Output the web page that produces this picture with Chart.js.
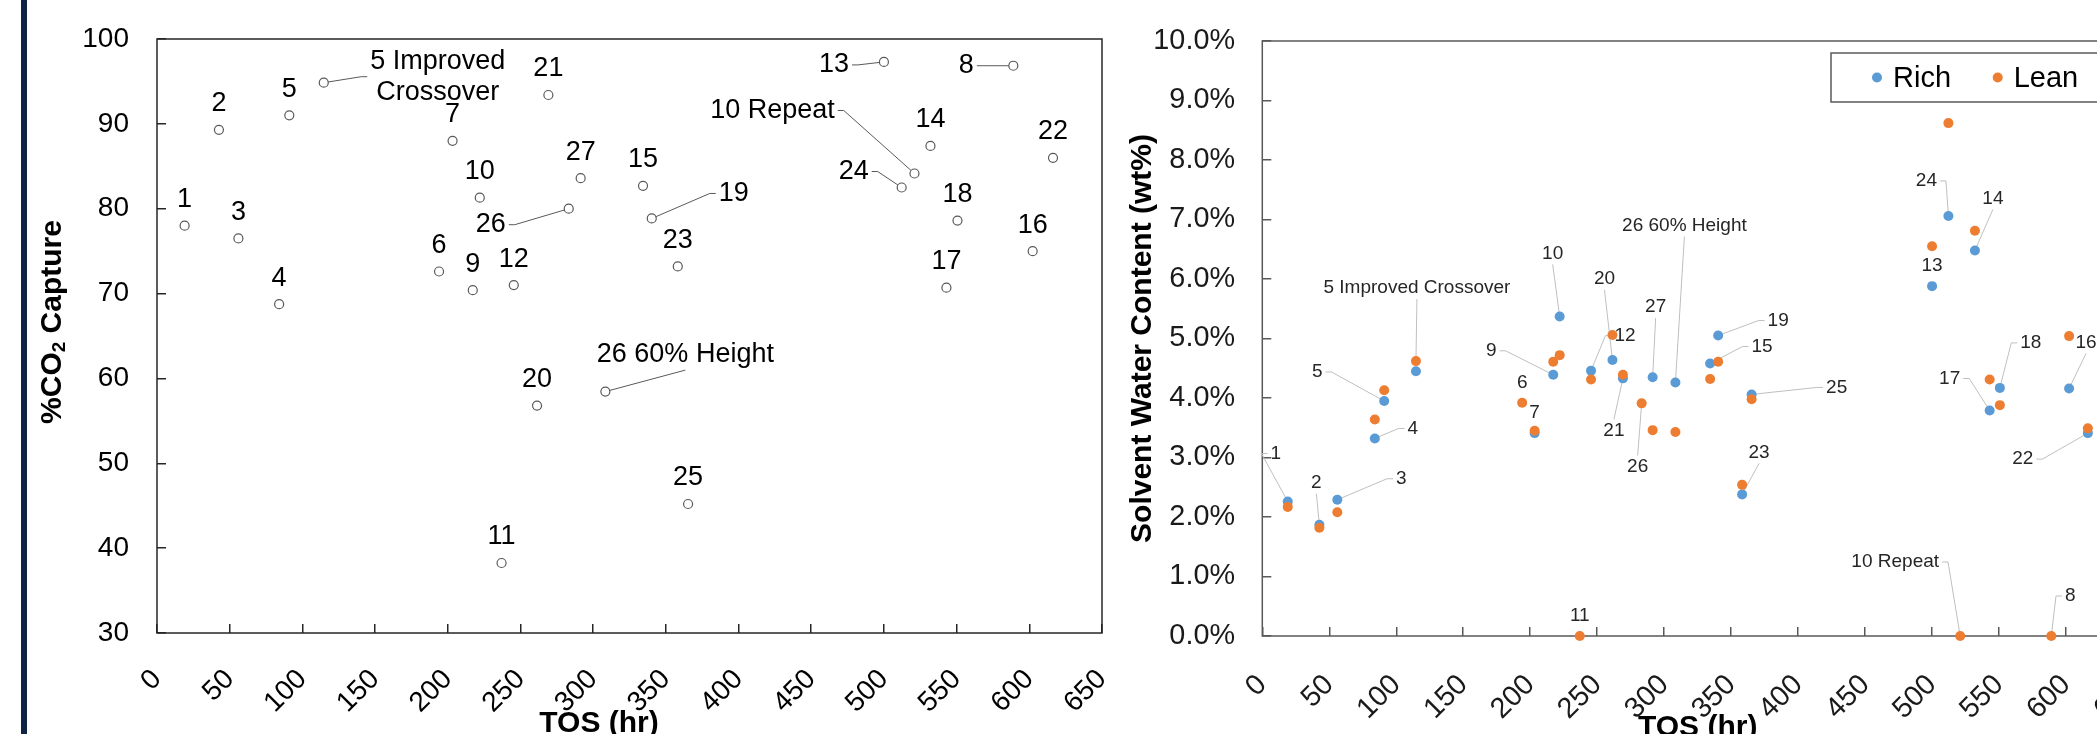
<!DOCTYPE html>
<html>
<head>
<meta charset="utf-8">
<script src="https://cdn.jsdelivr.net/npm/chart.js@4.4.1/dist/chart.umd.min.js"></script>
<style>
  html, body { margin: 0; padding: 0; background: #fff; }
  body { width: 2097px; height: 734px; overflow: hidden; position: relative; }
  #bar { position: absolute; left: 21px; top: 0; width: 6px; height: 734px; background: #0f2443; }
  #capture { position: absolute; left: 0; top: 0; }
  #water { position: absolute; left: 1120px; top: 0; }
</style>
</head>
<body>
<div id="bar"></div>
<canvas id="capture" width="1120" height="734"></canvas>
<canvas id="water" width="1100" height="734"></canvas>
<script>
// run names, time on stream and measured values
const runs = ['1', '2', '3', '4', '5', '5 Improved Crossover', '6', '7', '8', '9', '10', '10 Repeat', '11', '12',
	'13', '14', '15', '16', '17', '18', '19', '20', '21', '22', '23', '24', '25', '26', '26 60% Height', '27'];
const tosHours = [19, 42.6, 56, 84, 91, 114.7, 194, 203.3, 589, 217.2, 222, 521, 237, 245.4,
	500, 532, 334.3, 602.3, 543, 550.6, 340.3, 261.4, 269.2, 616.3, 358.2, 512.2, 365.3, 283.2, 308.4, 291.4];
const co2Capture = [78.0, 89.3, 76.5, 68.75, 91.0, 94.85, 72.6, 88.0, 96.85, 70.4, 81.3, 84.15, 38.25, 71.0,
	97.3, 87.4, 82.7, 75.0, 70.7, 78.6, 78.85, 56.8, 93.4, 86.0, 73.2, 82.5, 45.2, 80.0, 58.45, 83.6];
const richWater = [2.26, 1.87, 2.29, 3.32, 3.95, 4.45, null, 3.41, null, 4.39, 5.37, null, null, 4.46,
	5.88, 6.48, 4.58, 4.16, 3.79, 4.17, 5.05, 4.64, 4.33, 3.41, 2.38, 7.06, 4.06, null, 4.26, 4.35];
const leanWater = [2.17, 1.82, 2.08, 3.64, 4.13, 4.62, 3.92, 3.45, 0, 4.61, 4.72, 0, 0, 4.31,
	6.55, 6.81, 4.32, 5.04, 4.31, 3.88, 4.61, 5.06, 4.39, 3.49, 2.54, 8.62, 3.98, 3.91, 3.43, 3.46];
const seriesNames = ['Rich', 'Lean'];
const tosRange = [0, 650, 50];
const captureRange = [30, 100, 10];
const waterRange = [0, 10, 1];

const FONT = "'Liberation Sans', Arial, sans-serif";

// label placement (pixels from the point); side = where a leader line leaves the text
const captureLabels = [
	...['1', '2', '3', '4', '5', '6', '7', '9', '10', '11', '12', '14', '15', '16', '17', '18', '20', '21', '22', '23', '25', '27']
		.map(run => ({ run })),
	{ run: '5 Improved Crossover', text: '5 Improved\nCrossover', dx: 114, dy: -6, side: 'l' },
	{ run: '26', dx: -78, dy: 16, side: 'r' },
	{ run: '13', dx: -50, dy: 3, side: 'r' },
	{ run: '8', dx: -47, dy: 0, side: 'r' },
	{ run: '10 Repeat', dx: -142, dy: -63, side: 'r' },
	{ run: '24', dx: -48, dy: -16, side: 'r' },
	{ run: '19', dx: 82, dy: -25, side: 'l' },
	{ run: '26 60% Height', dx: 80, dy: -37, side: 'b' },
];

const waterLabels = [
	{ run: '6', ds: 1 }, { run: '7', ds: 0 }, { run: '11', ds: 1 }, { run: '13', ds: 0 },
	{ run: '1', ds: 0, dx: -12, dy: -48, side: 'l' },
	{ run: '2', ds: 0, dx: -3, dy: -42, side: 'b' },
	{ run: '3', ds: 0, dx: 64, dy: -21, side: 'l' },
	{ run: '4', ds: 0, dx: 38, dy: -10, side: 'l' },
	{ run: '5', ds: 0, dx: -67, dy: -29, side: 'r' },
	{ run: '5 Improved Crossover', ds: 1, dx: 1, dy: -73, side: 'b' },
	{ run: '9', ds: 0, dx: -62, dy: -24, side: 'r' },
	{ run: '10', ds: 0, dx: -7, dy: -63, side: 'b' },
	{ run: '12', ds: 0, dx: 34, dy: -35, side: 'l' },
	{ run: '20', ds: 0, dx: -8, dy: -81, side: 'b' },
	{ run: '27', ds: 0, dx: 3, dy: -70, side: 'b' },
	{ run: '26 60% Height', ds: 0, dx: 9, dy: -157, side: 'b' },
	{ run: '19', ds: 0, dx: 60, dy: -15, side: 'l' },
	{ run: '15', ds: 0, dx: 52, dy: -17, side: 'l' },
	{ run: '21', ds: 0, dx: -9, dy: 52, side: 't' },
	{ run: '26', ds: 1, dx: -4, dy: 63, side: 't' },
	{ run: '25', ds: 0, dx: 85, dy: -7, side: 'l' },
	{ run: '23', ds: 0, dx: 17, dy: -42, side: 'b' },
	{ run: '24', ds: 0, dx: -22, dy: -35, side: 'r' },
	{ run: '14', ds: 0, dx: 18, dy: -52, side: 'b' },
	{ run: '10 Repeat', ds: 1, dx: -65, dy: -74, side: 'r' },
	{ run: '8', ds: 1, dx: 19, dy: -40, side: 'l' },
	{ run: '17', ds: 0, dx: -40, dy: -32, side: 'r' },
	{ run: '18', ds: 0, dx: 31, dy: -45, side: 'l' },
	{ run: '16', ds: 0, dx: 17, dy: -46, side: 'b' },
	{ run: '22', ds: 0, dx: -65, dy: 26, side: 'r' },
];

function points(values) {
	return tosHours.map((x, i) => ({ x, y: values[i] }));
}

function labelGeometry(chart, ctx, lb, cfg) {
	const el = chart.getDatasetMeta(lb.ds || 0).data[runs.indexOf(lb.run)];
	const lines = (lb.text || lb.run).split('\n');
	const w = Math.max(...lines.map(l => ctx.measureText(l).width));
	const lh = cfg.size * 1.15;
	const h = lh * lines.length;
	const cx = el.x + (lb.dx || 0);
	const cy = el.y + (lb.dy === undefined ? cfg.dy : lb.dy);
	return { el, lines, w, h, lh, cx, cy };
}

function pointLabels(cfg) {
	return {
		id: 'pointLabels',
		beforeDatasetsDraw(chart) {
			const ctx = chart.ctx;
			ctx.save();
			ctx.font = `${cfg.size}px ${FONT}`;
			ctx.strokeStyle = cfg.leader;
			ctx.lineWidth = 1;
			cfg.items.filter(lb => lb.side).forEach(lb => {
				const g = labelGeometry(chart, ctx, lb, cfg);
				let sx = g.cx, sy = g.cy, kx, ky;
				if (lb.side === 'l') { sx = g.cx - g.w / 2 - 3; kx = sx - 6; ky = sy; }
				else if (lb.side === 'r') { sx = g.cx + g.w / 2 + 3; kx = sx + 6; ky = sy; }
				else if (lb.side === 'b') { sy = g.cy + g.h / 2; kx = sx; ky = sy; }
				else { sy = g.cy - g.h / 2; kx = sx; ky = sy; }
				ctx.beginPath();
				ctx.moveTo(sx, sy);
				ctx.lineTo(kx, ky);
				ctx.lineTo(g.el.x, g.el.y);
				ctx.stroke();
			});
			ctx.restore();
		},
		afterDatasetsDraw(chart) {
			const ctx = chart.ctx;
			ctx.save();
			ctx.font = `${cfg.size}px ${FONT}`;
			ctx.fillStyle = cfg.color;
			ctx.textAlign = 'center';
			ctx.textBaseline = 'middle';
			cfg.items.forEach(lb => {
				const g = labelGeometry(chart, ctx, lb, cfg);
				g.lines.forEach((line, k) => ctx.fillText(line, g.cx, g.cy - g.h / 2 + g.lh * (k + 0.5)));
			});
			ctx.restore();
		}
	};
}

function drawTitle(ctx, parts, x, y, rot) {
	ctx.save();
	ctx.translate(x, y);
	ctx.rotate(rot);
	ctx.fillStyle = '#000';
	ctx.textBaseline = 'middle';
	ctx.textAlign = 'left';
	const fonts = parts.map(p => `bold ${p.sub ? 19 : 30}px ${FONT}`);
	const widths = parts.map((p, k) => { ctx.font = fonts[k]; return ctx.measureText(p.t).width; });
	let cx = -widths.reduce((a, b) => a + b, 0) / 2;
	parts.forEach((p, k) => {
		ctx.font = fonts[k];
		ctx.fillText(p.t, cx, p.sub ? 7 : 0);
		cx += widths[k];
	});
	ctx.restore();
}

// frame round the plot plus the two axis titles
function frameAndTitles(cfg) {
	return {
		id: 'frameAndTitles',
		beforeDatasetsDraw(chart) {
			const { ctx, chartArea: a } = chart;
			ctx.save();
			ctx.strokeStyle = cfg.frame;
			ctx.lineWidth = 1.5;
			ctx.strokeRect(a.left, a.top, a.right - a.left, a.bottom - a.top);
			ctx.restore();
		},
		afterDraw(chart) {
			const { ctx, chartArea: a } = chart;
			drawTitle(ctx, cfg.yTitle, a.left - cfg.yTitleGap, a.top + cfg.yTitleAt, -Math.PI / 2);
			drawTitle(ctx, [{ t: 'TOS (hr)' }], a.left + cfg.xTitleAt, a.bottom + cfg.xTitleGap, 0);
		}
	};
}

const boxLegend = {
	id: 'boxLegend',
	afterDraw(chart) {
		const { ctx, chartArea: a } = chart;
		const x0 = a.right - 302, y0 = a.top + 12, h = 49;
		ctx.save();
		ctx.strokeStyle = '#595959';
		ctx.lineWidth = 1.5;
		ctx.strokeRect(x0, y0, 294, h);
		ctx.font = `29px ${FONT}`;
		ctx.textBaseline = 'middle';
		ctx.textAlign = 'left';
		let x = x0 + 46;
		chart.data.datasets.forEach(ds => {
			ctx.fillStyle = ds.backgroundColor;
			ctx.beginPath();
			ctx.arc(x, y0 + h / 2, 5, 0, Math.PI * 2);
			ctx.fill();
			ctx.fillStyle = '#000';
			ctx.fillText(ds.label, x + 16, y0 + h / 2 + 1);
			x += 120.7;
		});
		ctx.restore();
	}
};

function axis(range, opts) {
	return {
		type: 'linear',
		min: range[0],
		max: range[1],
		afterFit: s => {
			opts.fit(s);
			s.paddingLeft = s.paddingRight = s.paddingTop = s.paddingBottom = 0;
		},
		border: { display: false },
		grid: { drawOnChartArea: false, drawTicks: true, tickLength: -9, color: opts.color, lineWidth: 1.5 },
		ticks: {
			stepSize: range[2],
			autoSkip: false,
			padding: opts.padding,
			color: opts.tickColor,
			minRotation: opts.rotation || 0,
			maxRotation: opts.rotation || 0,
			font: { family: FONT, size: opts.size },
			callback: opts.format || (v => v),
		}
	};
}

new Chart(document.getElementById('capture'), {
	type: 'scatter',
	data: {
		datasets: [{
			label: '%CO2 Capture',
			data: points(co2Capture),
			backgroundColor: '#ffffff',
			borderColor: '#595959',
			borderWidth: 1.2,
			pointRadius: 4.5,
			clip: false,
		}]
	},
	options: {
		responsive: false,
		animation: false,
		devicePixelRatio: 1,
		layout: { padding: { left: 0, top: 39, right: 18, bottom: 0 } },
		plugins: { legend: { display: false }, tooltip: { enabled: false } },
		scales: {
			x: axis(tosRange, { fit: s => { s.height = 101; }, padding: 39, rotation: 45, size: 28, color: '#262626', tickColor: '#000' }),
			y: axis(captureRange, { fit: s => { s.width = 157; }, padding: 37, size: 28, color: '#262626', tickColor: '#000' }),
		}
	},
	plugins: [
		frameAndTitles({ frame: '#262626', yTitle: [{ t: '%CO' }, { t: '2', sub: true }, { t: ' Capture' }],
			yTitleGap: 104, yTitleAt: 283, xTitleAt: 442, xTitleGap: 91 }),
		pointLabels({ items: captureLabels, size: 27, dy: -26, color: '#000', leader: '#595959' }),
	]
});

new Chart(document.getElementById('water'), {
	type: 'scatter',
	data: {
		datasets: [
			{ label: seriesNames[0], data: points(richWater), backgroundColor: '#5B9BD5', borderWidth: 0, pointRadius: 5, order: 1, clip: false },
			{ label: seriesNames[1], data: points(leanWater), backgroundColor: '#ED7D31', borderWidth: 0, pointRadius: 5, order: 0, clip: false },
		]
	},
	options: {
		responsive: false,
		animation: false,
		devicePixelRatio: 1,
		layout: { padding: { left: 0, top: 41, right: 87, bottom: 0 } },
		plugins: { legend: { display: false }, tooltip: { enabled: false } },
		scales: {
			x: axis(tosRange, { fit: s => { s.height = 98; }, padding: 41, rotation: 45, size: 28.8, color: '#595959', tickColor: '#1a1a1a' }),
			y: axis(waterRange, { fit: s => { s.width = 142.3; }, padding: 36.3, size: 28.8, color: '#595959', tickColor: '#1a1a1a',
				format: v => v.toFixed(1) + '%' }),
		}
	},
	plugins: [
		frameAndTitles({ frame: '#595959', yTitle: [{ t: 'Solvent Water Content (wt%)' }],
			yTitleGap: 120, yTitleAt: 297.5, xTitleAt: 435.4, xTitleGap: 92 }),
		pointLabels({ items: waterLabels, size: 19, dy: -20, color: '#262626', leader: '#bfbfbf' }),
		boxLegend,
	]
});
</script>
</body>
</html>
